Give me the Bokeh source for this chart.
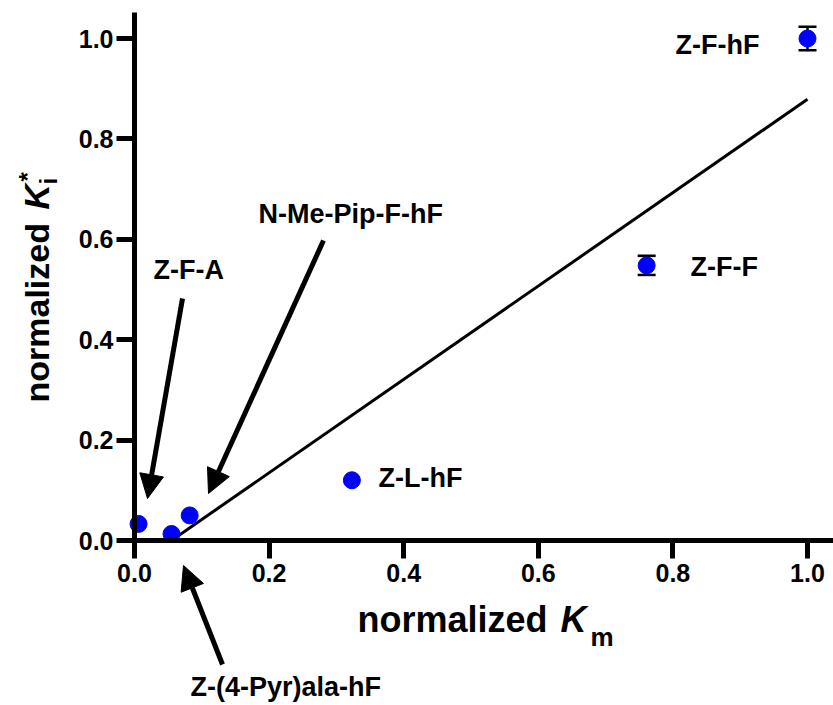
import math
from bokeh.plotting import figure
from bokeh.models import (Range1d, Label, Arrow, NormalHead, Whisker, TeeHead,
                          ColumnDataSource, FixedTicker, NumeralTickFormatter)
from bokeh.embed import file_html
from bokeh.resources import INLINE

# ---------------- data ----------------
compounds = ["Z-F-A", "Z-(4-Pyr)ala-hF", "N-Me-Pip-F-hF", "Z-L-hF", "Z-F-F", "Z-F-hF"]
norm_km = [0.006, 0.055, 0.082, 0.323, 0.761, 1.0]
norm_ki = [0.033, 0.013, 0.050, 0.120, 0.548, 1.0]
ki_err = [0.0, 0.0, 0.0, 0.0, 0.019, 0.0235]
fit_km = [0.055, 1.0]
fit_ki = [0.0, 0.879]
tick_values = [0.0, 0.2, 0.4, 0.6, 0.8, 1.0]

# ---------------- layout ----------------
W, H = 833, 705
X0_PX, Y0_PX = 134, 540          # pixel position of the origin
TOP_PX = 12                      # top end of the y axis
PX_PER_X = 673.0
PX_PER_Y = 502.0
FONT = "Liberation Sans"
BASE_SHIFT = 0.38                # empirical baseline correction (fraction of font size)

x_start = -X0_PX / PX_PER_X
x_end = (W - X0_PX) / PX_PER_X
y_start = -(H - Y0_PX) / PX_PER_Y
y_end = Y0_PX / PX_PER_Y


def px_x(px):
    return (px - X0_PX) / PX_PER_X


def px_y(py):
    return (Y0_PX - py) / PX_PER_Y


p = figure(width=W, height=H, output_backend="svg", toolbar_location=None,
           x_range=Range1d(x_start, x_end), y_range=Range1d(y_start, y_end),
           min_border=0, min_border_left=0, min_border_right=0,
           min_border_top=0, min_border_bottom=0)
p.outline_line_color = None
p.xgrid.grid_line_color = None
p.ygrid.grid_line_color = None
p.background_fill_color = "white"
p.border_fill_color = "white"

p.xaxis.fixed_location = 0
p.yaxis.fixed_location = 0
p.xaxis.bounds = (0, x_end)
p.yaxis.bounds = (0, px_y(TOP_PX))

for ax in (p.xaxis, p.yaxis):
    ax.ticker = FixedTicker(ticks=tick_values, minor_ticks=[])
    ax.formatter = NumeralTickFormatter(format="0.0")
    ax.axis_line_width = 5
    ax.axis_line_color = "black"
    ax.major_tick_line_width = 5
    ax.major_tick_line_color = "black"
    ax.major_tick_out = 18
    ax.major_tick_in = 0
    ax.minor_tick_line_color = None
    ax.major_label_text_font = FONT
    ax.major_label_text_font_style = "bold"
    ax.major_label_text_font_size = "25px"
    ax.major_label_text_color = "black"
p.xaxis.major_label_standoff = 5
p.yaxis.major_label_standoff = 3

# regression line
p.line(fit_km, fit_ki, line_color="black", line_width=3)

# error bars
err_idx = [i for i, e in enumerate(ki_err) if e > 0]
err_src = ColumnDataSource(data=dict(
    x=[norm_km[i] for i in err_idx],
    lower=[norm_ki[i] - ki_err[i] for i in err_idx],
    upper=[norm_ki[i] + ki_err[i] for i in err_idx],
))
wh = Whisker(source=err_src, base="x", lower="lower", upper="upper",
             dimension="height", line_color="black", line_width=2.5,
             lower_head=TeeHead(size=18, line_width=2.5, line_color="black"),
             upper_head=TeeHead(size=18, line_width=2.5, line_color="black"),
             level="underlay")
p.add_layout(wh)

# points
src = ColumnDataSource(data=dict(x=norm_km, y=norm_ki, name=compounds))
p.scatter("x", "y", source=src, size=17, fill_color="#0000FF",
          line_color="#0000FF", marker="circle")


def label(text, px, py, size=27, align="left", style="bold", rotated=False):
    if rotated:
        px = px - BASE_SHIFT * size
        angle = math.pi / 2
    else:
        py = py - BASE_SHIFT * size
        angle = 0.0
    p.add_layout(Label(x=px_x(px), y=px_y(py), text=text, text_font=FONT,
                       text_font_style=style, text_font_size=f"{size}px",
                       text_align=align, text_baseline="alphabetic",
                       text_color="black", angle=angle))


def arrow(px0, py0, px1, py1):
    p.add_layout(Arrow(x_start=px_x(px0), y_start=px_y(py0),
                       x_end=px_x(px1), y_end=px_y(py1),
                       line_width=5, line_color="black",
                       end=NormalHead(size=24, fill_color="black",
                                      line_color="black", line_width=1)))


# compound labels (baseline pixel positions)
label(compounds[5], 759, 55, align="right")
label(compounds[4], 690, 277)
label(compounds[3], 378, 488)
label(compounds[0], 153, 280)
label(compounds[2], 258, 224)
label(compounds[1], 190, 697)

# arrows
arrow(182, 298, 147, 498)
arrow(323, 240, 208, 493)
arrow(222, 664, 183, 565)

# x axis title: normalized K_m
label("normalized", 357, 633, size=36)
label("K", 560, 633, size=36, style="bold italic")
label("m", 590, 646, size=26)

# y axis title: normalized K*_i (rotated)
label("normalized", 49, 402, size=34, rotated=True)
label("K", 49, 209, size=35, style="bold italic", rotated=True)
label("i", 57, 184, size=24, rotated=True)
label("*", 36, 181, size=24, rotated=True)

open("out.html", "w").write(file_html(p, INLINE))
